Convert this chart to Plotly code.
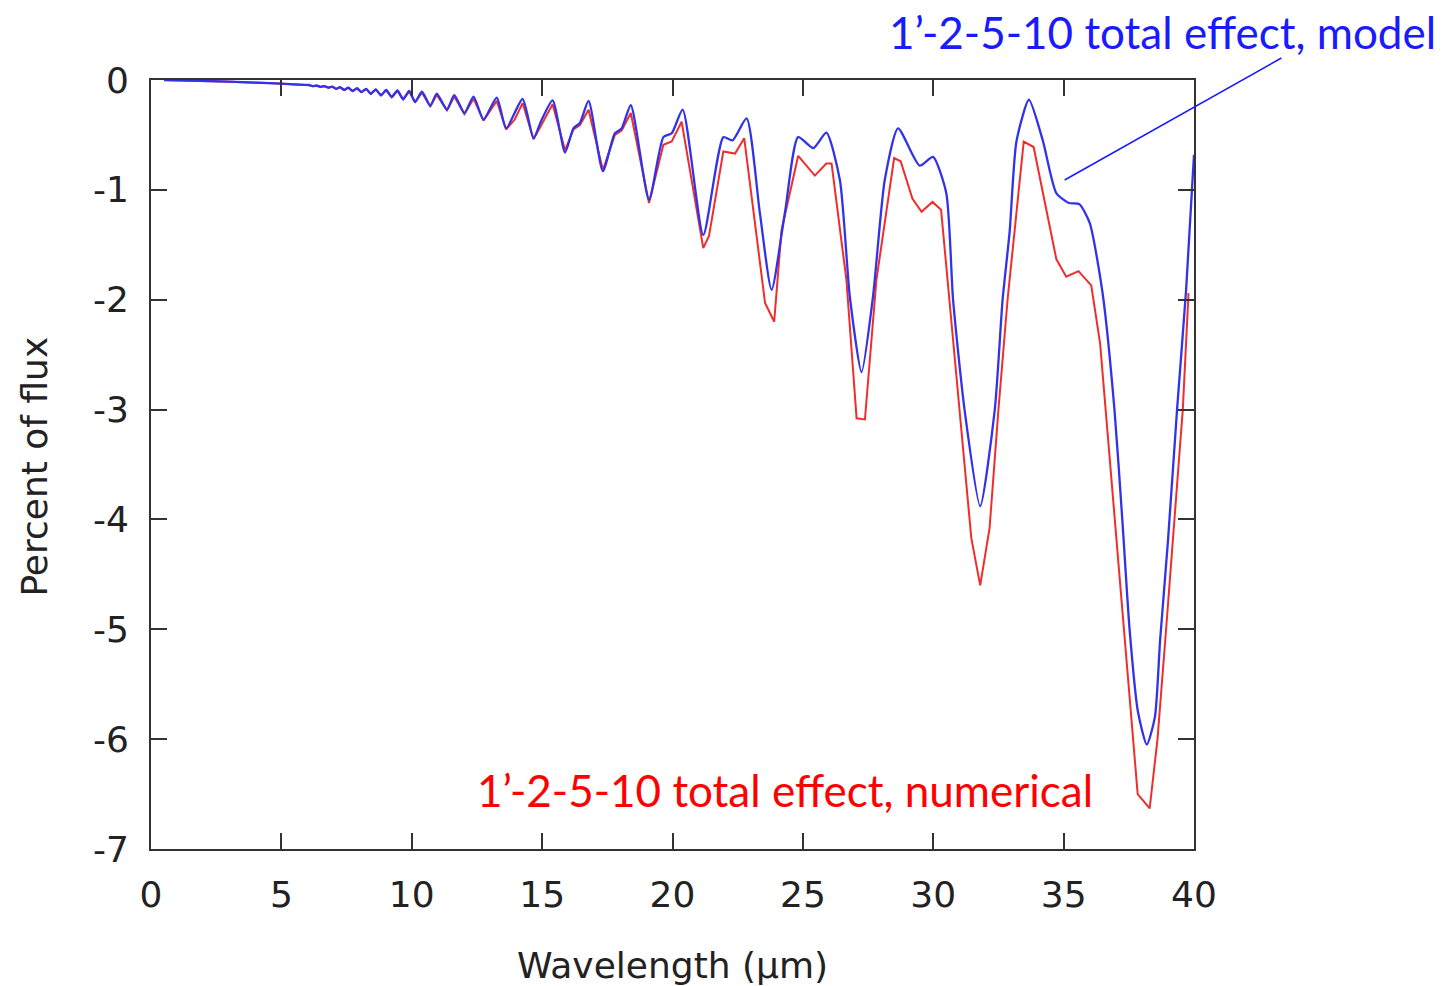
import plotly.graph_objects as go

# ---- data ----
model_x = [0.5, 1.5, 3.0, 4.5, 5.5, 6.05, 6.2, 6.35, 6.5, 6.65, 6.8, 6.95, 7.1, 7.25, 7.41, 7.57, 7.73,
           7.9, 8.07, 8.25, 8.43, 8.62, 8.82, 9.02, 9.23, 9.45, 9.67, 9.9, 10.13, 10.39, 10.71, 10.96,
           11.35, 11.63, 12.02, 12.37, 12.75, 13.26, 13.62, 14.25, 14.67, 14.95, 15.4, 15.88, 16.2,
           16.45, 16.78, 17.33, 17.79, 18.05, 18.4, 19.1, 19.65, 19.97, 20.39, 21.18, 21.95, 22.3,
           22.84, 23.35, 23.8, 24.31, 24.82, 25.4, 25.9, 26.42, 26.8, 27.25, 27.69, 28.14, 28.65,
           29.48, 29.99, 30.5, 30.76, 31.2, 31.8, 32.36, 32.66, 32.93, 33.19, 33.67, 34.2, 34.72,
           35.2, 35.6, 36.0, 36.5, 36.95, 37.25, 37.53, 37.85, 38.19, 38.5, 38.7, 39.0, 39.35,
           39.7, 40.0]
model_y = [0.0, -0.005, -0.015, -0.028, -0.04, -0.045, -0.055, -0.05, -0.062, -0.055, -0.07, -0.06,
           -0.08, -0.065, -0.09, -0.07, -0.10, -0.075, -0.11, -0.08, -0.125, -0.085, -0.14, -0.09,
           -0.155, -0.095, -0.175, -0.10, -0.20, -0.106, -0.235, -0.125, -0.27, -0.137, -0.30,
           -0.152, -0.36, -0.161, -0.44, -0.173, -0.53, -0.38, -0.185, -0.66, -0.44, -0.39, -0.19,
           -0.83, -0.485, -0.44, -0.23, -1.09, -0.52, -0.485, -0.27, -1.41, -0.52, -0.55, -0.35,
           -1.21, -1.91, -1.21, -0.52, -0.62, -0.48, -0.91, -1.97, -2.66, -1.97, -0.91, -0.44,
           -0.78, -0.70, -1.03, -2.0, -3.0, -3.88, -3.0, -2.0, -1.38, -0.56, -0.18, -0.55, -1.03,
           -1.12, -1.13, -1.30, -1.95, -3.0, -4.0, -5.0, -5.75, -6.05, -5.8, -5.1, -4.2, -3.0,
           -1.9, -0.68]

numer_x = [0.5, 1.5, 3.0, 4.5, 5.5, 6.05, 6.2, 6.35, 6.5, 6.65, 6.8, 6.95, 7.1, 7.25, 7.41, 7.57, 7.73,
           7.9, 8.07, 8.25, 8.43, 8.62, 8.82, 9.02, 9.23, 9.45, 9.67, 9.9, 10.13, 10.39, 10.71, 10.96,
           11.35, 11.63, 12.02, 12.37, 12.75, 13.26, 13.62, 13.95, 14.25, 14.67, 14.95, 15.4, 15.88,
           16.2, 16.45, 16.78, 17.33, 17.79, 18.05, 18.4, 19.1, 19.65, 19.97, 20.35, 21.18, 21.4,
           21.95, 22.4, 22.75, 23.55, 23.9, 24.18, 24.82, 25.46, 25.9, 26.1, 26.67, 27.06, 27.38,
           27.82, 28.5, 28.75, 29.2, 29.55, 29.97, 30.3, 30.63, 31.46, 31.8, 32.16, 32.5, 32.85,
           33.47, 33.85, 34.72, 35.1, 35.57, 36.06, 36.4, 37.84, 38.3, 38.6, 38.93, 39.25, 39.57,
           39.79]
numer_y = [0.0, -0.005, -0.015, -0.028, -0.04, -0.047, -0.056, -0.052, -0.063, -0.057, -0.071, -0.062,
           -0.081, -0.067, -0.091, -0.072, -0.10, -0.078, -0.11, -0.083, -0.126, -0.088, -0.14, -0.094,
           -0.156, -0.10, -0.176, -0.105, -0.20, -0.115, -0.24, -0.135, -0.275, -0.15, -0.31, -0.17,
           -0.37, -0.19, -0.45, -0.36, -0.21, -0.54, -0.42, -0.22, -0.64, -0.45, -0.41, -0.27, -0.82,
           -0.50, -0.46, -0.30, -1.12, -0.59, -0.56, -0.38, -1.53, -1.42, -0.65, -0.67, -0.53,
           -2.03, -2.2, -1.37, -0.69, -0.87, -0.76, -0.76, -1.82, -3.08, -3.09, -1.82, -0.71, -0.74,
           -1.08, -1.2, -1.11, -1.18, -2.03, -4.17, -4.6, -4.08, -3.0, -2.0, -0.56, -0.61, -1.63,
           -1.79, -1.74, -1.87, -2.4, -6.5, -6.63, -6.0, -5.0, -4.0, -3.0, -1.94]

x_ticks = [0, 5, 10, 15, 20, 25, 30, 35, 40]
y_ticks = [0, -1, -2, -3, -4, -5, -6, -7]

label_model = "1\u2019-2-5-10 total effect, model"
label_numer = "1\u2019-2-5-10 total effect, numerical"
x_title = "Wavelength (\u00b5m)"
y_title = "Percent of flux"

BLUE = "rgb(50,50,235)"
RED = "rgb(240,45,45)"
AX = "#333333"

fig = go.Figure()
fig.add_trace(go.Scatter(x=numer_x, y=numer_y, mode="lines",
                         line=dict(color=RED, width=2, shape="linear"), showlegend=False))
fig.add_trace(go.Scatter(x=model_x, y=model_y, mode="lines",
                         line=dict(color=BLUE, width=2.3, shape="spline", smoothing=0.6),
                         showlegend=False))

axis_common = dict(showgrid=False, zeroline=False, showline=True, linecolor=AX, linewidth=2,
                   mirror="ticks", ticks="inside", ticklen=16, tickwidth=2, tickcolor=AX,
                   tickfont=dict(family="DejaVu Sans", size=36, color="#222222"))

fig.update_xaxes(range=[0, 40], tickvals=x_ticks, ticktext=[str(v) for v in x_ticks],
                 ticklabelstandoff=13, **axis_common)
fig.update_yaxes(range=[-7, 0], tickvals=y_ticks, ticktext=[str(v) for v in y_ticks],
                 ticklabelstandoff=13, **axis_common)

W, H = 1449, 986
L, R, T, B = 150.5, 1194.5, 80, 849
pw, ph = R - L, B - T

def px(xp):
    return (xp - L) / pw

def py(yp):
    return (B - yp) / ph

annotations = [
    dict(text=label_model, x=px(1163), y=py(32), xref="paper", yref="paper", showarrow=False,
         xanchor="center", yanchor="middle", font=dict(family="Lato", size=44, color="#1a1aff")),
    dict(text=label_numer, x=px(785), y=py(790), xref="paper", yref="paper", showarrow=False,
         xanchor="center", yanchor="middle", font=dict(family="Lato", size=44, color="#ff0000")),
    dict(text=x_title, x=px(673), y=py(965), xref="paper", yref="paper", showarrow=False,
         xanchor="center", yanchor="middle", font=dict(family="DejaVu Sans", size=36, color="#222222")),
    dict(text=y_title, x=px(33), y=py(467), xref="paper", yref="paper", showarrow=False,
         textangle=-90, xanchor="center", yanchor="middle",
         font=dict(family="DejaVu Sans", size=36, color="#222222")),
]

shapes = [
    dict(type="line", xref="paper", yref="paper", x0=px(1282), y0=py(58), x1=px(1065), y1=py(180),
         line=dict(color="#1a1aff", width=1.5)),
]

fig.update_layout(width=W, height=H, margin=dict(l=L, r=W - R, t=T, b=H - B, pad=0),
                  paper_bgcolor="white", plot_bgcolor="white",
                  annotations=annotations, shapes=shapes, showlegend=False)

fig.write_html("out.html")
